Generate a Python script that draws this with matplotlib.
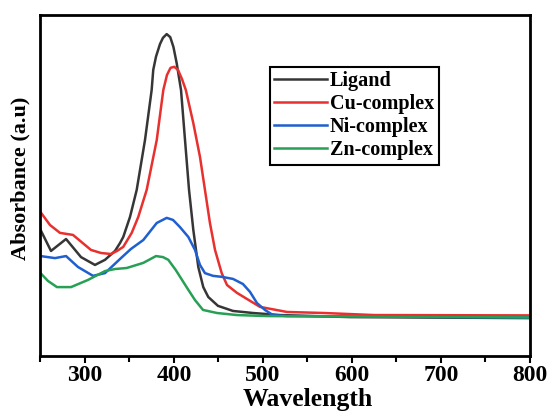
import matplotlib
matplotlib.use("Agg")
import matplotlib.pyplot as plt
from matplotlib.ticker import MultipleLocator, NullLocator

# Wavelength (nm) and absorbance (a.u., arbitrary scale)
ligand_wl = [250, 261.8, 278.7, 295.5, 311.2, 322.5, 333.7, 339.3, 343.0, 350.6, 358.1,
             367.4, 374.9, 376.7, 379.8, 384.3, 387.6, 391.8, 395.8, 399.4, 403.0, 407.9,
             412.4, 416.9, 421.7, 427.3, 432.9, 438.5, 449.4, 466.3, 488.8, 519.1, 597.8, 800]
ligand_ab = [0.370, 0.308, 0.343, 0.290, 0.267, 0.282, 0.308, 0.331, 0.349, 0.408, 0.487,
             0.633, 0.780, 0.839, 0.878, 0.915, 0.933, 0.944, 0.935, 0.906, 0.859, 0.780,
             0.633, 0.487, 0.370, 0.261, 0.202, 0.173, 0.147, 0.132, 0.126, 0.120, 0.114, 0.111]

cu_wl = [250, 260.7, 271.9, 286.5, 306.7, 318.0, 329.2, 336.0, 343.0, 352.5, 359.9, 369.3,
         380.6, 388.0, 392.1, 396.1, 400.3, 404.5, 409.0, 413.3, 421.7, 429.2, 434.8, 440.4,
         446.1, 453.6, 459.6, 470.8, 496.6, 527.0, 568.5, 624.7, 800]
cu_ab = [0.422, 0.384, 0.361, 0.355, 0.311, 0.302, 0.299, 0.308, 0.320, 0.361, 0.408, 0.487,
         0.633, 0.780, 0.824, 0.845, 0.848, 0.839, 0.812, 0.780, 0.683, 0.584, 0.487, 0.390,
         0.311, 0.243, 0.208, 0.185, 0.144, 0.129, 0.126, 0.120, 0.119]

ni_wl = [250, 266.3, 278.7, 292.1, 309.0, 322.5, 340.4, 351.7, 365.5, 380.6, 391.8, 398.9,
         406.7, 416.1, 423.6, 429.2, 434.8, 443.8, 453.9, 466.3, 477.5, 485.4, 493.3, 502.2,
         511.2, 527, 800]
ni_ab = [0.293, 0.287, 0.293, 0.261, 0.235, 0.243, 0.287, 0.314, 0.340, 0.390, 0.405, 0.399,
         0.378, 0.349, 0.311, 0.267, 0.243, 0.235, 0.232, 0.226, 0.211, 0.188, 0.155, 0.135,
         0.120, 0.117, 0.113]

zn_wl = [250, 258.4, 268.5, 284.3, 303.4, 322.5, 333.7, 346.9, 365.5, 379.8, 387.6, 393.6,
         402.0, 416.1, 423.6, 432.6, 448.3, 470.8, 504.5, 800]
zn_ab = [0.243, 0.220, 0.202, 0.202, 0.223, 0.249, 0.255, 0.258, 0.273, 0.293, 0.290, 0.282,
         0.252, 0.194, 0.164, 0.135, 0.126, 0.120, 0.117, 0.113]

labels = ["Ligand", "Cu-complex", "Ni-complex", "Zn-complex"]
colors = ["#363636", "#e8302f", "#1f5fcf", "#27a055"]
x_ticks = [300, 400, 500, 600, 700, 800]

plt.rcParams['font.family'] = ['Liberation Serif', 'DejaVu Serif']

fig = plt.figure(figsize=(5.48, 4.12), dpi=100)
ax = fig.add_axes([0.0739, 0.136, 0.8932, 0.8276])

series = [(ligand_wl, ligand_ab), (cu_wl, cu_ab), (ni_wl, ni_ab), (zn_wl, zn_ab)]
for (wl, ab), lab, col in zip(series, labels, colors):
    ax.plot(wl, ab, color=col, lw=1.8, label=lab, solid_joinstyle='round')

ax.set_xlim(250, 800)
ax.set_ylim(0, 1.0)
ax.set_xticks(x_ticks)
ax.xaxis.set_minor_locator(MultipleLocator(50))
ax.yaxis.set_major_locator(NullLocator())
ax.tick_params(axis='x', which='major', direction='out', length=5, width=1.5,
               labelsize=17, pad=1.5)
ax.tick_params(axis='x', which='minor', direction='out', length=4, width=1.5)
for t in ax.get_xticklabels():
    t.set_fontweight('bold')
for s in ax.spines.values():
    s.set_linewidth(2)

ax.set_xlabel("Wavelength", fontsize=18.5, fontweight='bold')
ax.xaxis.set_label_coords(0.546, -0.093, transform=ax.transAxes)
ax.xaxis.label.set_va('top')
ax.set_ylabel("Absorbance (a.u)", fontsize=16, fontweight='bold')
ax.yaxis.set_label_coords(-0.02, 0.522, transform=ax.transAxes)

leg = ax.legend(loc='upper left', bbox_to_anchor=(0.469, 0.8475), fancybox=False,
                edgecolor='black', framealpha=1, borderaxespad=0,
                prop={'weight': 'bold', 'size': 14.5}, handlelength=2.6,
                labelspacing=0.15, handletextpad=0.15, borderpad=0.22)
leg.get_frame().set_linewidth(1.5)

fig.savefig("out.png", dpi=100)
